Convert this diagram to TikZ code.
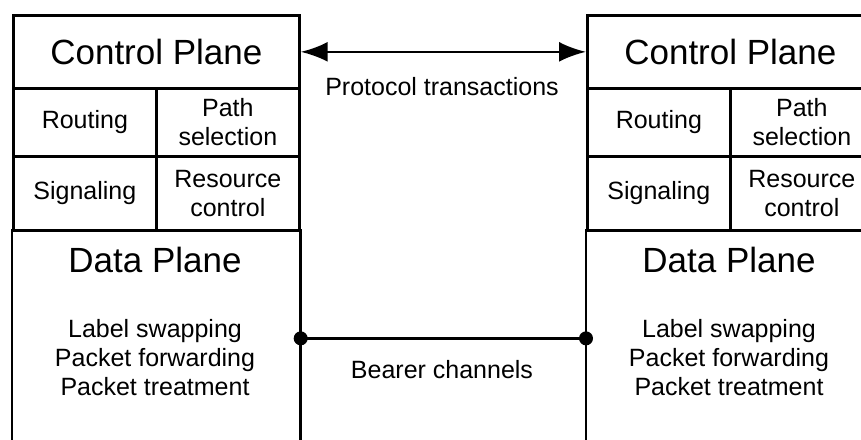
\documentclass[tikz,border=0pt]{standalone}
\usepackage{fontspec}
\setmainfont{Liberation Sans}
\usetikzlibrary{arrows.meta}

\begin{document}
\begin{tikzpicture}[x=1pt,y=-1pt,
  line width=2.7pt,
  >={Latex[length=27pt,width=20pt]},
  bigfont/.style={font=\fontsize{35}{40}\selectfont},
  smallfont/.style={font=\fontsize{25}{29}\selectfont},
  cell/.style={draw, inner sep=0pt, anchor=north west, align=center, smallfont},
  plane/.style={inner sep=0pt, anchor=north west},
  junction/.style={circle, fill, inner sep=0pt, minimum size=14pt}
]
\useasboundingbox (0,0) rectangle (861,439);

% Two routers: each with a control plane stacked above a data plane
\foreach \s/\dx in {L/0,R/574}{
  \node[cell, bigfont, minimum width=286pt, minimum height=73pt] (cp\s) at (12+\dx,14) {Control Plane};
  \node[cell, minimum width=143pt, minimum height=68pt] (rt\s) at (12+\dx,87) {Routing};
  \node[cell, minimum width=143pt, minimum height=68pt] (ps\s) at (155+\dx,87) {Path\\selection};
  \node[cell, minimum width=143pt, minimum height=74pt] (sg\s) at (12+\dx,155) {Signaling};
  \node[cell, minimum width=143pt, minimum height=74pt] (rc\s) at (155+\dx,155) {Resource\\control};
  \node[plane, minimum width=286pt, minimum height=216pt] (dp\s) at (12+\dx,229) {};
  \draw (dp\s.north west) -- (dp\s.south west) (dp\s.north east) -- (dp\s.south east);
  \node[bigfont] (dt\s) at (155+\dx,260) {Data Plane};
  \node[smallfont, align=center] (fn\s) at (155+\dx,358) {Label swapping\\Packet forwarding\\Packet treatment};
}

% Control-plane exchange
\draw[<->] (cpL.east) -- (cpR.west);
\node[smallfont] (ptx) at (442,87) {Protocol transactions};

% Data-plane link
\draw (dpL.east) -- (dpR.west);
\node[junction] (jL) at (dpL.east) {};
\node[junction] (jR) at (dpR.west) {};
\node[smallfont] (bch) at (442,370) {Bearer channels};
\end{tikzpicture}
\end{document}
